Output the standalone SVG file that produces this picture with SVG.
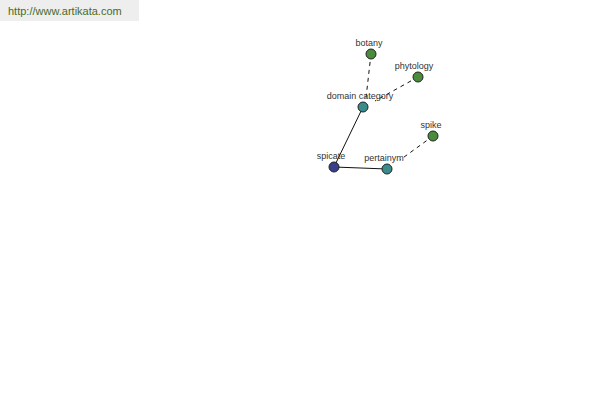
<svg xmlns="http://www.w3.org/2000/svg" width="600" height="400" viewBox="0 0 600 400">
<style>
.lbl{font-family:"Liberation Sans",Arial,sans-serif;font-size:9px;fill:#333;text-anchor:middle}
.n{stroke:#222;stroke-width:1}
.g{fill:#4a8c3c}.t{fill:#3a8c8a}.b{fill:#3a3f8c}
.e{stroke:#111;stroke-width:1;fill:none}
.d{stroke-dasharray:4,4}
</style>
<rect x="0" y="0" width="139" height="21" fill="#eeeeee"/>
<text x="8" y="15" font-family="Liberation Sans,Arial,sans-serif" font-size="11" fill="#4a6a2a">http://www.artikata.com</text>
<g id="connectors">
<line class="e d" x1="371" y1="54" x2="366" y2="98"/>
<line class="e d" x1="418" y1="77" x2="375" y2="101"/>
<line class="e d" x1="433" y1="136" x2="400" y2="160"/>
<line class="e" x1="363" y1="107" x2="334" y2="167"/>
<line class="e" x1="334" y1="167" x2="387" y2="169"/>
</g>
<g id="botany"><circle class="n g" cx="371" cy="54" r="5"/><text class="lbl" x="369" y="46">botany</text></g>
<g id="phytology"><circle class="n g" cx="418" cy="77" r="5"/><text class="lbl" x="414" y="69">phytology</text></g>
<g id="domain-category"><circle class="n t" cx="363" cy="107" r="5"/><text class="lbl" x="360" y="99">domain category</text></g>
<g id="spike"><circle class="n g" cx="433" cy="136" r="5"/><text class="lbl" x="431" y="128">spike</text></g>
<g id="spicate"><circle class="n b" cx="334" cy="167" r="5"/><text class="lbl" x="331" y="159">spicate</text></g>
<g id="pertainym"><circle class="n t" cx="387" cy="169" r="5"/><text class="lbl" x="384" y="161">pertainym</text></g>
</svg>
